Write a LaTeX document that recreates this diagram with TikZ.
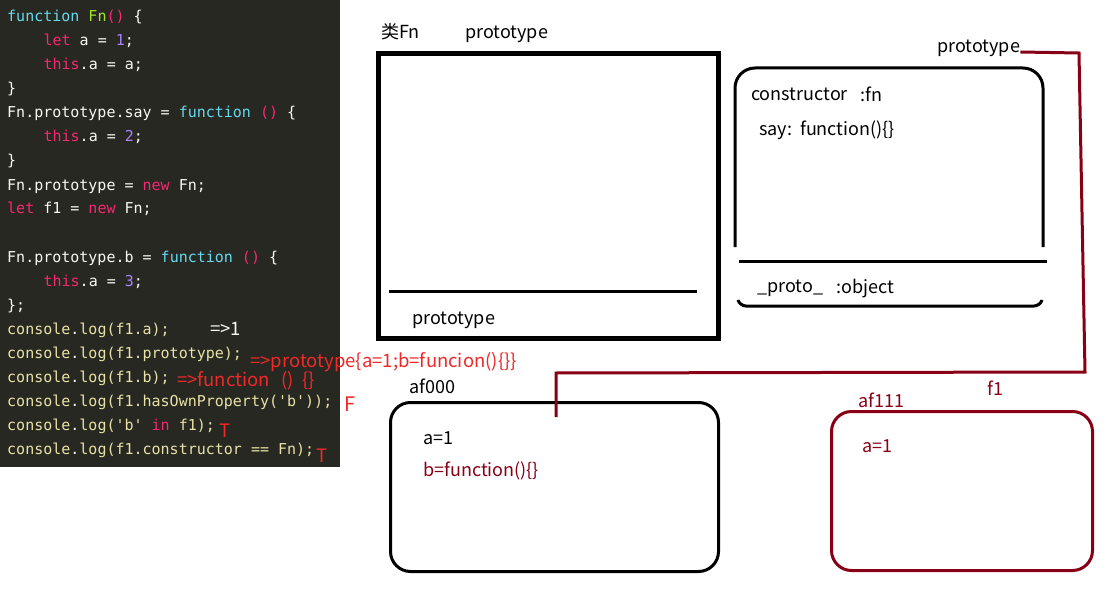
\documentclass[tikz,border=0pt]{standalone}
\usepackage{fontspec}
\setmainfont{Noto Sans CJK SC}
\setmonofont{DejaVu Sans Mono}
\definecolor{mkbg}{HTML}{272822}
\definecolor{mkkw}{HTML}{F92672}
\definecolor{mkfn}{HTML}{66D9EF}
\definecolor{mkgreen}{HTML}{A6E22E}
\definecolor{mknum}{HTML}{AE81FF}
\definecolor{mkyel}{HTML}{E8E2A6}
\definecolor{mkwhite}{HTML}{F8F8F2}
\definecolor{darkred}{HTML}{880015}
\definecolor{annored}{HTML}{F02828}
\newcommand\cK[1]{\textcolor{mkkw}{#1}}
\newcommand\cF[1]{\textcolor{mkfn}{#1}}
\newcommand\cG[1]{\textcolor{mkgreen}{#1}}
\newcommand\cN[1]{\textcolor{mknum}{#1}}
\newcommand\cW[1]{\textcolor{mkwhite}{#1}}
\begin{document}
\begin{tikzpicture}[x=1pt,y=-1pt,
  code/.style={anchor=base west, inner sep=0pt, font=\ttfamily\fontsize{15}{15}\selectfont, text=mkwhite},
  ccode/.style={code, text=mkyel},
  lbl/.style={anchor=base west, inner sep=0pt, font=\fontsize{18}{18}\selectfont, text=black},
  rlbl/.style={lbl, text=darkred},
  anno/.style={anchor=base west, inner sep=0pt, font=\fontsize{18.5}{18.5}\selectfont, text=annored},
  rbox/.style={draw, line width=3pt, rounded corners=20pt, inner sep=0pt, anchor=north west},
  link/.style={draw=darkred, line width=3pt, line join=miter}
]
\useasboundingbox (0,0) rectangle (1120,591);
\fill[white] (0,0) rectangle (1120,591);
\fill[mkbg] (0,0) rectangle (340,467);

% code lines
\node[code] (l0) at (7,22) {\cF{function} \cG{Fn}\cK{()} \{};
\node[code] (l1) at (43.4,46) {\cK{let} a = \cN{1};};
\node[code] (l2) at (43.4,70) {\cK{this}.a = a;};
\node[code] (l3) at (7,94) {\}};
\node[code] (l4) at (7,118) {Fn.prototype.say = \cF{function} \cK{()} \{};
\node[code] (l5) at (43.4,142) {\cK{this}.a = \cN{2};};
\node[code] (l6) at (7,166) {\}};
\node[code] (l7) at (7,190) {Fn.prototype = \cK{new} Fn;};
\node[code] (l8) at (7,214) {\cK{let} f1 = \cK{new} Fn;};
\node[code] (l10) at (7,262) {Fn.prototype.b = \cF{function} \cK{()} \{};
\node[code] (l11) at (43.4,286) {\cK{this}.a = \cN{3};};
\node[code] (l12) at (7,310) {\};};
\node[ccode] (l13) at (7,334) {console\cW{.}log(f1.a);};
\node[ccode] (l14) at (7,358) {console\cW{.}log(f1.prototype);};
\node[ccode] (l15) at (7,382) {console\cW{.}log(f1.b);};
\node[ccode] (l16) at (7,406) {console\cW{.}log(f1.hasOwnProperty('b'));};
\node[ccode] (l17) at (7,430) {console\cW{.}log('b' \cK{in} f1);};
\node[ccode] (l18) at (7,454) {console\cW{.}log(f1.constructor == Fn);};

% annotations
\node[anno, text=mkwhite] (a1) at (210,335) {=>1};
\node[anno] (a2) at (250,367) {=>prototype\{a=1;b=funcion()\{\}\}};
\node[anno] (a3) at (177,386) {=>function\hspace{11pt}()\hspace{9pt}\{\}};
\node[anno, font=\fontsize{20}{20}\selectfont] (a4) at (344,411) {F};
\node[anno] (a5) at (219,437) {T};
\node[anno] (a6) at (316,462) {T};

% class Fn box
\node[lbl] (clsname) at (381,39) {类Fn};
\node[lbl] (clsproto) at (465,39) {prototype};
\node[draw, line width=5pt, minimum width=340pt, minimum height=285pt, inner sep=0pt, anchor=north west] (fnbox) at (376,51) {};
\draw[line width=3pt] (389,291) -- (697,291);
\node[lbl] (fnproto) at (412,324) {prototype};

% prototype object
\node[lbl] (protolbl) at (937,53) {prototype};
\draw[line width=3pt, rounded corners=20pt] (735,247) -- (735,68) -- (1043,68) -- (1043,247);
\draw[line width=3pt] (739,261) -- (1047,261);
\draw[line width=3pt, rounded corners=6pt] (738,300) -- (740,306) -- (1040,306) -- (1042,300);
\node[lbl] (ctor) at (751,101) {constructor};
\node[lbl] (ctorv) at (860,102) {:fn};
\node[lbl] (say) at (759,136) {say:\ \ function()\{\}};
\node[lbl] (pr) at (757,292) {\_proto\_};
\node[lbl] (prv) at (836,293) {:object};

% af000
\node[lbl] (af0lbl) at (409,393) {af000};
\node[rbox, minimum width=328pt, minimum height=169pt] (af0) at (389,401) {};
\node[lbl] (af0a) at (423,444) {a=1};
\node[rlbl] (af0b) at (423,476) {b=function()\{\}};

% af111
\node[rlbl] (af1lbl) at (858,407) {af111};
\node[rlbl] (f1lbl) at (987,395) {f1};
\node[rbox, draw=darkred, minimum width=261pt, minimum height=159pt] (af1) at (830,410) {};
\node[rlbl] (af1a) at (862,452) {a=1};

% connector
\coordinate (c1) at (1079,53);
\coordinate (c2) at (1085,372);
\coordinate (c3) at (556,373);
\coordinate (cend) at (556,417);
\draw[link] (protolbl.east |- 0,52) -- (c1) -- (c2) -- (c3) -- (cend);
\end{tikzpicture}
\end{document}
